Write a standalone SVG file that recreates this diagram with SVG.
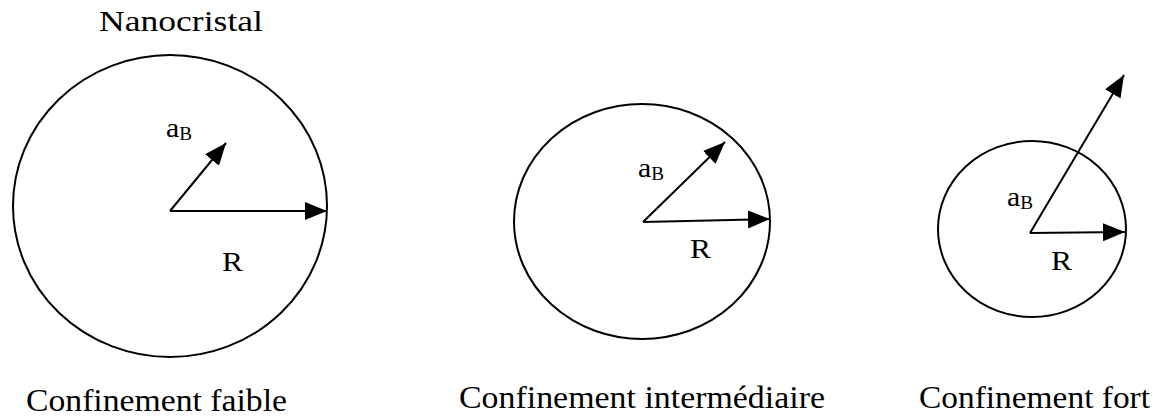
<svg xmlns="http://www.w3.org/2000/svg" width="1161" height="418" viewBox="0 0 1161 418">
<style>
.c{fill:none;stroke:#000;stroke-width:2}
.a{stroke:#000;stroke-width:2;fill:none}
text{font-family:"Liberation Serif","Times New Roman",serif;fill:#000}
.t{font-size:31px}
.n{font-size:29px}
.r{font-size:28px}
.s{font-size:28px}
.sub{font-size:18px}
</style>
<defs>
<marker id="ah" markerUnits="userSpaceOnUse" markerWidth="24" markerHeight="20" refX="22" refY="9" orient="auto">
<path d="M0,0 L22,9 L0,18 Z" fill="#000"/>
</marker>
</defs>
<rect width="1161" height="418" fill="#fff"/>
<text class="n" x="99" y="31" textLength="164" lengthAdjust="spacingAndGlyphs">Nanocristal</text>
<g id="faible">
<ellipse class="c" cx="170" cy="206" rx="157" ry="151"/>
<text class="s" x="166" y="137" textLength="26" lengthAdjust="spacingAndGlyphs">a<tspan class="sub" dy="3">B</tspan></text>
<text class="r" x="222" y="271" textLength="21" lengthAdjust="spacingAndGlyphs">R</text>
<text class="t" x="26" y="411" textLength="261" lengthAdjust="spacingAndGlyphs">Confinement faible</text>
</g>
<g id="intermediaire">
<ellipse class="c" cx="642" cy="221.5" rx="128" ry="117.5"/>
<text class="s" x="638" y="177" textLength="26" lengthAdjust="spacingAndGlyphs">a<tspan class="sub" dy="3">B</tspan></text>
<text class="r" x="690" y="258" textLength="21" lengthAdjust="spacingAndGlyphs">R</text>
<text class="t" x="459" y="408" textLength="366" lengthAdjust="spacingAndGlyphs">Confinement intermédiaire</text>
</g>
<g id="fort">
<ellipse class="c" cx="1032" cy="229" rx="94" ry="88"/>
<text class="s" x="1007" y="206" textLength="26" lengthAdjust="spacingAndGlyphs">a<tspan class="sub" dy="3">B</tspan></text>
<text class="r" x="1051" y="270" textLength="21" lengthAdjust="spacingAndGlyphs">R</text>
<text class="t" x="919" y="408" textLength="231" lengthAdjust="spacingAndGlyphs">Confinement fort</text>
</g>
<g id="connectors">
<line class="a" x1="170" y1="211" x2="327" y2="211" marker-end="url(#ah)"/>
<line class="a" x1="170" y1="211" x2="226" y2="143" marker-end="url(#ah)"/>
<line class="a" x1="643" y1="222" x2="770" y2="219" marker-end="url(#ah)"/>
<line class="a" x1="643" y1="222" x2="725" y2="142" marker-end="url(#ah)"/>
<line class="a" x1="1030" y1="233" x2="1125" y2="232" marker-end="url(#ah)"/>
<line class="a" x1="1030" y1="233" x2="1124" y2="75" marker-end="url(#ah)"/>
</g>
</svg>
